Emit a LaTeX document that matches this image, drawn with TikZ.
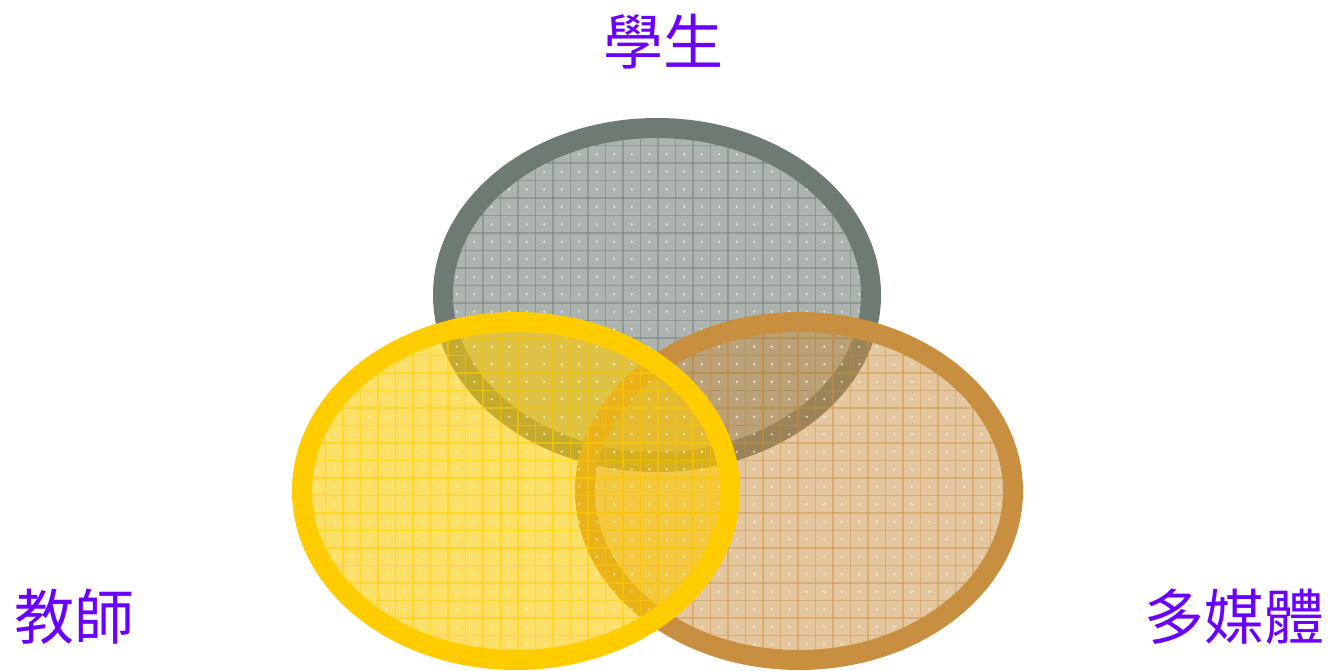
\documentclass[tikz,border=0pt]{standalone}
\usepackage{fontspec}
\newfontfamily\cjk{Noto Sans CJK TC}
\definecolor{labelc}{HTML}{6A00FF}
\definecolor{grayring}{HTML}{6E7B72}
\definecolor{grayfill}{HTML}{6E7B72}
\definecolor{yelring}{HTML}{FFCC00}
\definecolor{yelfill}{HTML}{FFCC00}
\definecolor{brring}{HTML}{C98F40}
\definecolor{brfill}{HTML}{C98F40}
\newcommand{\gridfill}[5]{% #1 color, #2 x0, #3 y0, #4 opacity, #5 unused
  \foreach \i in {0,...,26}{\draw[#1,opacity=#4,gridl] (#2+17.5*\i,#3) -- (#2+17.5*\i,#3+400);}
  \foreach \j in {0,...,22}{\draw[#1,opacity=#4,gridl] (#2,#3+17.5*\j) -- (#2+470,#3+17.5*\j);}
  \foreach \i in {0,...,26}{\foreach \j in {0,...,22}{\fill[dot] (#2+8.75+17.5*\i,#3+8.75+17.5*\j) circle[radius=1.1];}}
}
\begin{document}
\begin{tikzpicture}[x=1pt,y=-1pt,
  lbl/.style={text=labelc,font=\cjk\fontsize{60}{66}\selectfont,inner sep=0pt},
  ring/.style={line width=20pt},
  gridl/.style={line width=1.6pt},
  dot/.style={fill=white,opacity=0.75}]
\useasboundingbox (0,0) rectangle (1330,671);
% gray ellipse
\fill[grayfill,fill opacity=0.57] (657,295) ellipse [x radius=214,y radius=167];
\begin{scope}
\clip (657,295) ellipse [x radius=214,y radius=167];
\gridfill{grayring}{430.5}{110.5}{0.45}{}
\end{scope}
\draw[grayring,ring] (657,295) ellipse [x radius=214,y radius=167];
% brown ellipse
\fill[brfill,fill opacity=0.5] (799,491) ellipse [x radius=214,y radius=169];
\begin{scope}
\clip (799,491) ellipse [x radius=214,y radius=169];
\gridfill{brring}{570.5}{303}{0.45}{}
\end{scope}
\draw[brring,ring] (799,491) ellipse [x radius=214,y radius=169];
% yellow ellipse
\fill[yelfill,fill opacity=0.6] (516,491) ellipse [x radius=214,y radius=169];
\begin{scope}
\clip (516,491) ellipse [x radius=214,y radius=169];
\gridfill{yelring}{290.5}{303}{0.55}{}
\end{scope}
\draw[yelring,ring] (516,491) ellipse [x radius=214,y radius=169];
% labels
\node[lbl] (student) at (663,42) {學生};
\node[lbl] (teacher) at (74,617) {教師};
\node[lbl] (media) at (1234,617) {多媒體};
\end{tikzpicture}
\end{document}
